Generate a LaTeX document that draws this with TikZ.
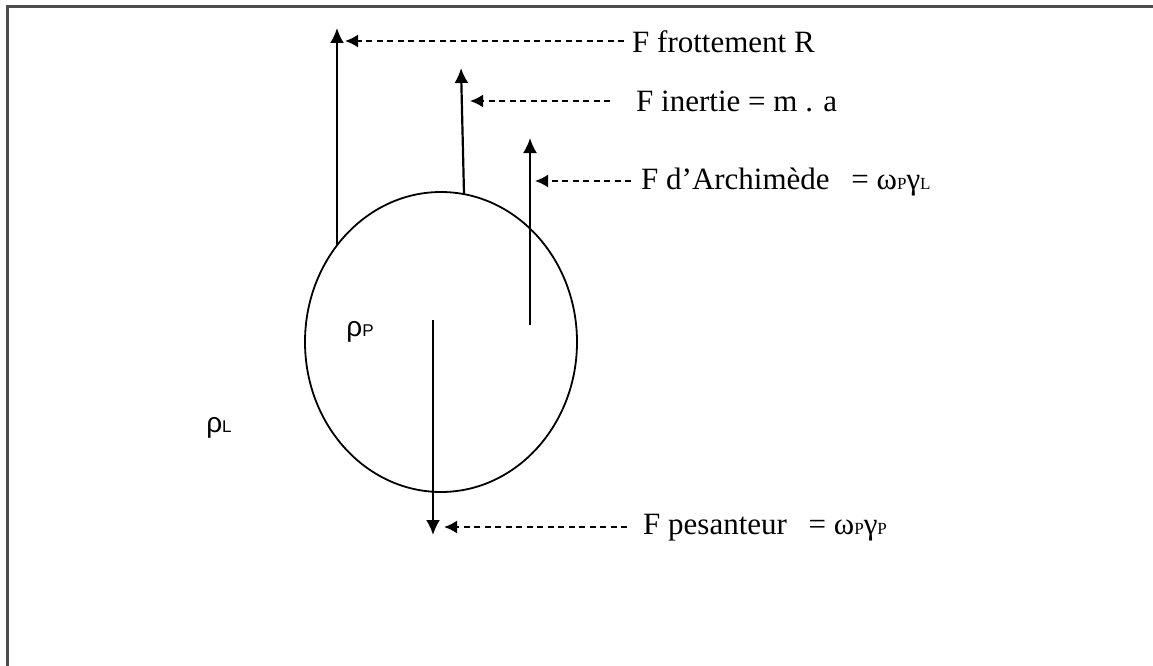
\documentclass[tikz,border=0pt]{standalone}
\usepackage{fontspec}
\setmainfont{Liberation Serif}
\newfontfamily\sansgr{Liberation Sans}
\usetikzlibrary{arrows.meta,shapes.geometric}
\newcommand{\sbs}[1]{{\fontsize{17}{17}\selectfont #1}}
\begin{document}
\begin{tikzpicture}[x=1pt,y=-1pt,
  force/.style={line width=2.2pt,-{Latex[length=15pt,width=14pt]}},
  lead/.style={line width=2pt,dash pattern=on 6pt off 4.5pt,-{Latex[length=13pt,width=13pt]}},
  lbl/.style={anchor=west,inner sep=0pt,font=\fontsize{31}{34}\selectfont},
  rho/.style={inner sep=0pt,font=\sansgr\fontsize{28}{30}\selectfont}]
\useasboundingbox (0,0) rectangle (1153,666);
\draw[line width=3pt,color=black!70] (7,700) -- (7,7) -- (1200,7);
\node[draw,line width=1.8pt,ellipse,minimum width=272pt,minimum height=300pt,inner sep=0pt] (ball) at (441,342) {};
% force arrows
\coordinate (f1a) at (337,245);
\coordinate (f1b) at (337,28);
\coordinate (f2a) at (464,194);
\coordinate (f2b) at (461,68);
\coordinate (f3a) at (530,325);
\coordinate (f3b) at (530,138);
\coordinate (f4a) at (433,320);
\coordinate (f4b) at (433,535);
\draw[force] (f1a) -- (f1b);
\draw[force] (f2a) -- (f2b);
\draw[force] (f3a) -- (f3b);
\draw[force] (f4a) -- (f4b);
% labels
\node[lbl] (lfr) at (632,42) {F frottement R};
\node[lbl] (lin) at (636,101) {F inertie = m . a};
\node[lbl] (lar) at (641,182) {F d’Archimède\hspace{0.7em}= ω\sbs{P}γ\sbs{L}};
\node[lbl] (lpe) at (643,528) {F pesanteur\hspace{0.7em}= ω\sbs{P}γ\sbs{P}};
\coordinate (t1) at (345,41);
\coordinate (t2) at (470,101);
\coordinate (t3) at (535,181);
\coordinate (t4) at (444,527);
\draw[lead] ([xshift=-8pt]lfr.west |- 0,41) -- (t1);
\draw[lead] ([xshift=-26pt]lin.west |- 0,101) -- (t2);
\draw[lead] ([xshift=-10pt]lar.west |- 0,181) -- (t3);
\draw[lead] ([xshift=-16pt]lpe.west |- 0,527) -- (t4);
\node[rho] (rp) at (360,332) {ρ\sbs{P}};
\node[rho] (rl) at (219,428) {ρ\sbs{L}};
\end{tikzpicture}
\end{document}
